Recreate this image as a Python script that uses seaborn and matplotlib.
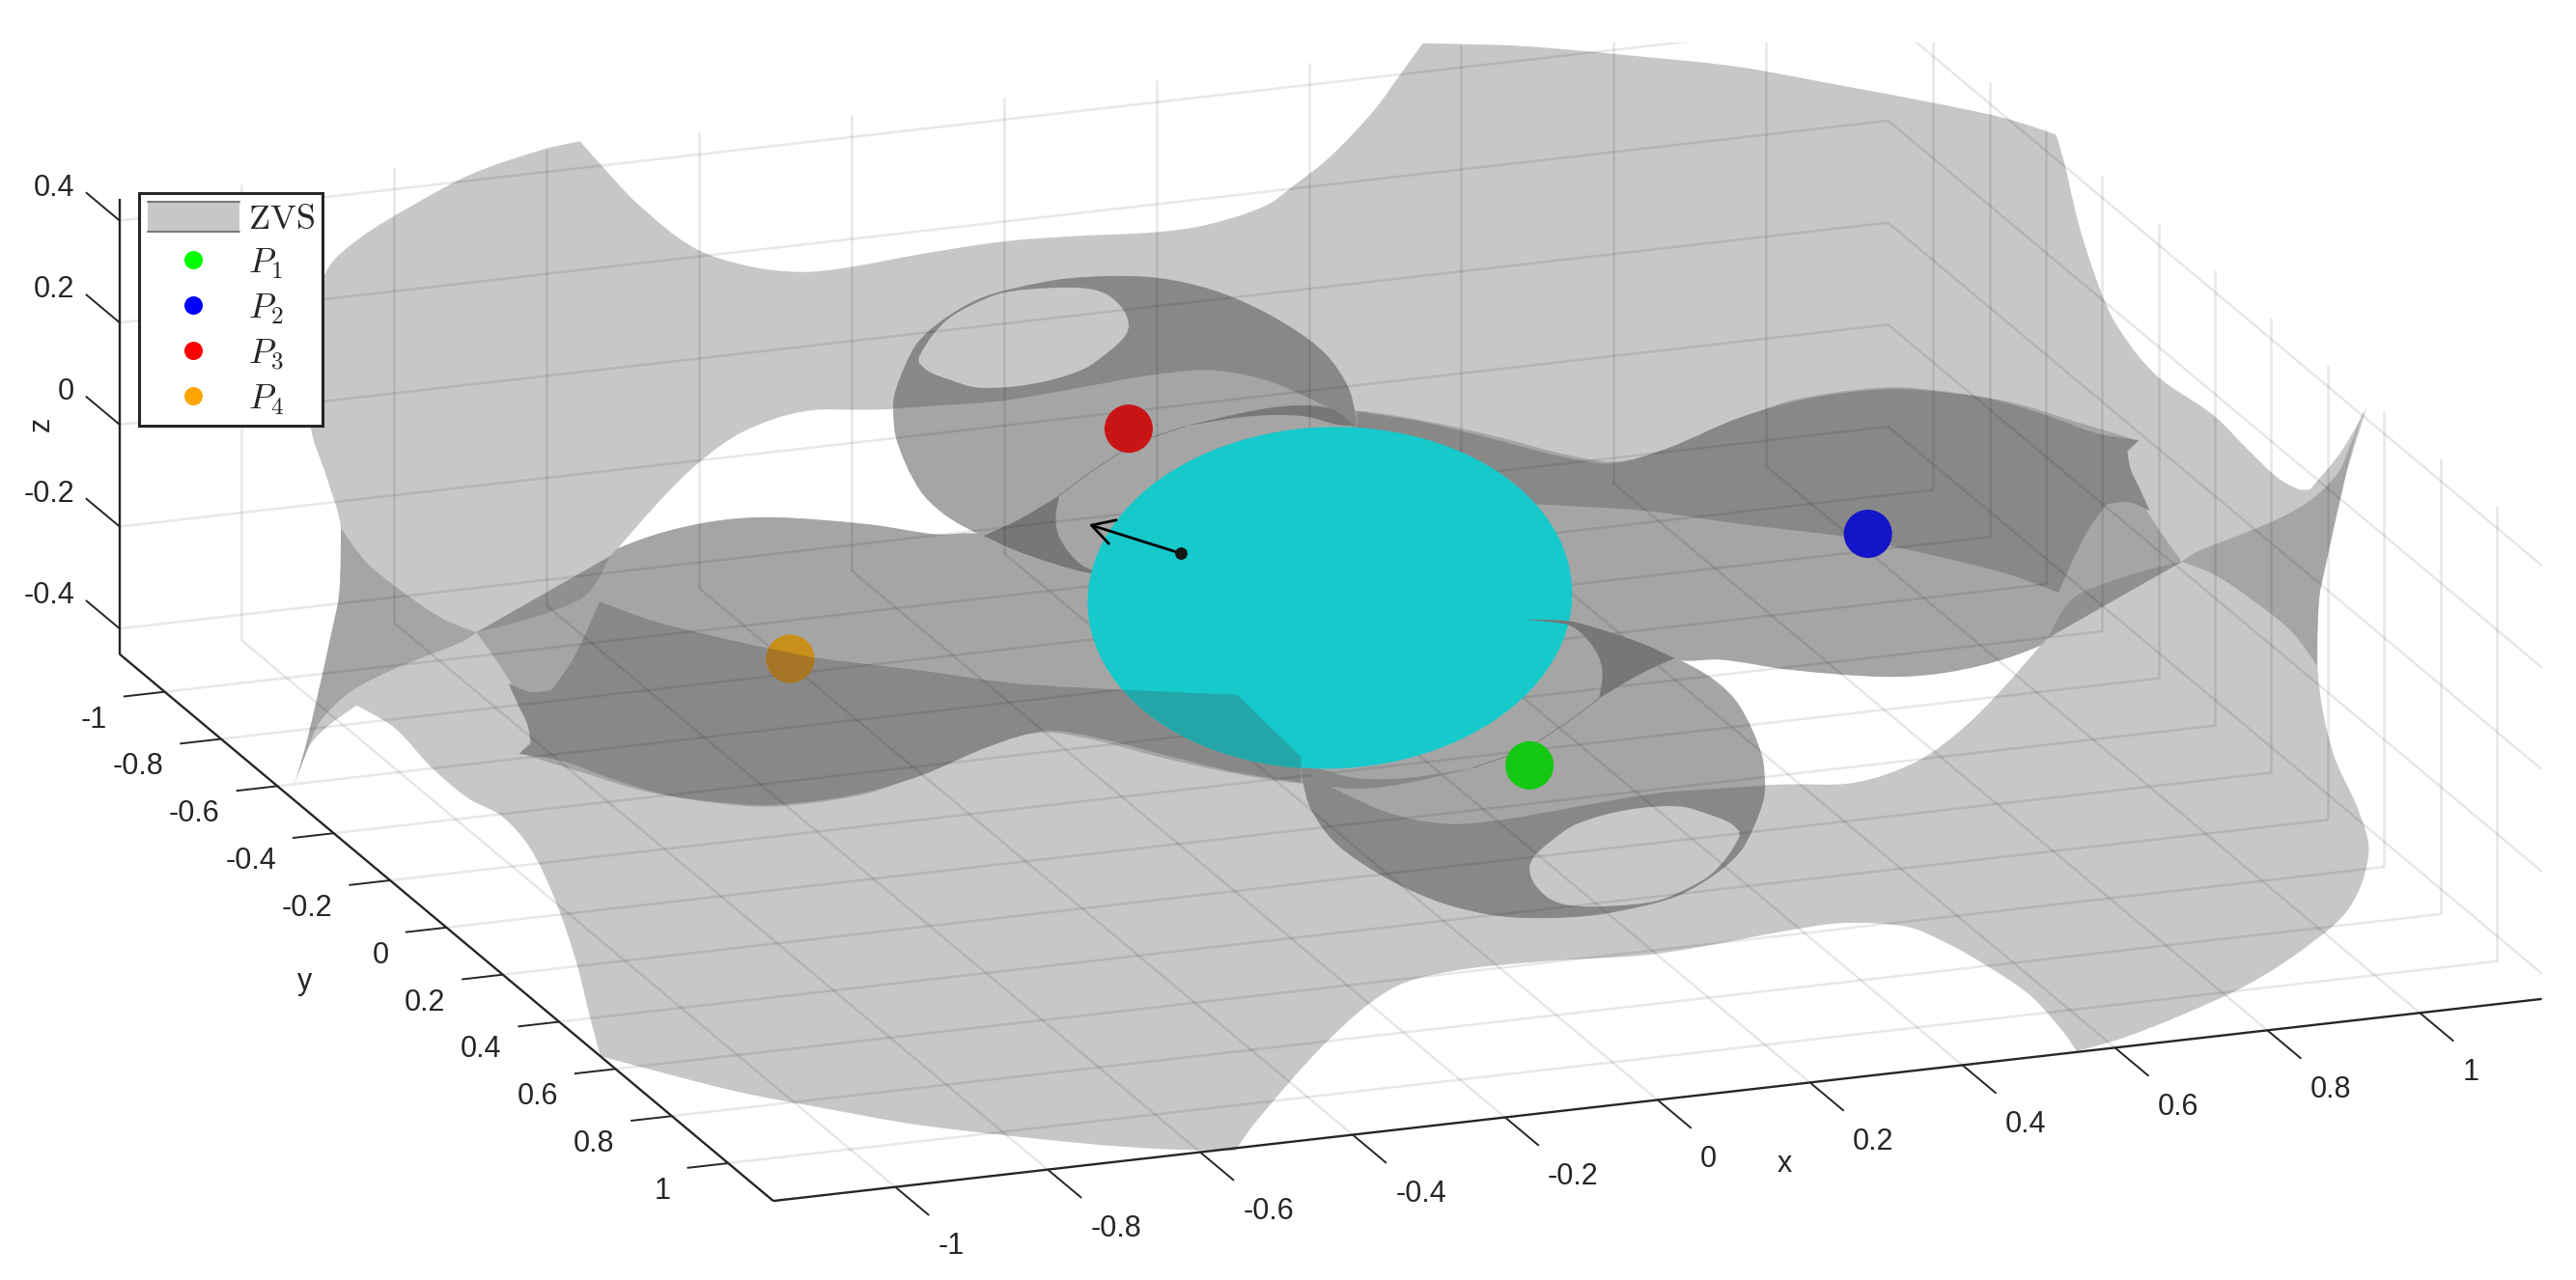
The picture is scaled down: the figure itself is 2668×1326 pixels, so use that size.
import numpy as np
import pandas as pd
import matplotlib
matplotlib.use("Agg")
import matplotlib.pyplot as plt
import seaborn as sns
from matplotlib.collections import LineCollection
from matplotlib.legend_handler import HandlerBase
from matplotlib.lines import Line2D
from matplotlib.patches import Ellipse, PathPatch, Rectangle
from matplotlib.path import Path
from matplotlib.transforms import Affine2D

# ---- data (view-plane units of the 1568-wide image) ----
X_TICKS = [-1, -0.8, -0.6, -0.4, -0.2, 0, 0.2, 0.4, 0.6, 0.8, 1]
Y_TICKS = [-1, -0.8, -0.6, -0.4, -0.2, 0, 0.2, 0.4, 0.6, 0.8, 1]
Z_TICKS = [-0.4, -0.2, 0, 0.2, 0.4]
TICK_NAMES = {-1: "-1", -0.8: "-0.8", -0.6: "-0.6", -0.4: "-0.4", -0.2: "-0.2", 0: "0",
              0.2: "0.2", 0.4: "0.4", 0.6: "0.6", 0.8: "0.8", 1: "1"}
XY_LIM = 1.16
Z_MIN, Z_MAX = -0.45, 0.443

SILHOUETTE = [(353,86),(366,100.6),(388,124),(422,150.6),(455.5,162),(488,165.6),(515,163),(560,154.8),
 (611,147),(650,144),(702.7,141.4),(734,137),(770,125.4),(788,112.6),(809,96),(836,67.6),(854,43),(866,26.4),
 (912.7,27.4),(940,29),(1000,34.5),(1058,40.7),(1123,52.5),
 (1172,61.7),(1220.6,72),(1251.5,82),(1256,97),(1266,139),(1279,178),(1289,199),(1312,228),(1347.5,253),
 (1370,275.5),(1386.6,291),(1399.6,298),(1406,298),(1425,275),(1440.6,248),(1429,285),(1419,315),
 (1412.6,354),(1411,411),(1420,458),(1435.6,493.5),(1441.8,519.3),(1430.5,552),(1405,575.6),(1369,599),
 (1328,618),(1292,632),(1264,640),(1256,628.4),(1235.7,606),(1205.6,585.7),(1184.6,574),(1160.6,564.2),
 (1121.6,562),(1091.6,566),(1007.6,580.8),(943.4,585),(881.6,591.6),(846,602.6),(807.6,634.3),(764,683.5),
 (752,700.6),(706,699.5),(658,696),(560,685),(495,673.5),(446,664),(365.5,643),(360,622.7),(350.5,584.7),(337.4,546.7),
 (322.4,516),(305.5,497),(285,486),(262.4,467),(240,443),(217,429.6),(198.7,442.8),(187.5,455.5),(179,478),
 (185.6,456),(193,425),(202.5,382),(206.5,361),(207.5,321.4),(199,291),(189,258.6),(190,200),(199,164.5),
 (219,145),(253,124),(287,106),(330.6,91)]
WHITE_GAP = [(376,334),(401.5,305),(425,282),(452,263),(489,250.5),(529,249.5),(544,249),(547.5,270),
 (559,294),(576,311),(598,325.5),(569.5,325.3),(529,319.3),(472,315),(438.6,316.8),(405,323.7)]
LOBE_DISK = [(543.6,248.8),(544.8,239),(551.5,221.3),(559.4,207.6),(575,194),(595.4,182.2),(615.6,175.9),
 (651.6,169.4),(696.6,168.5),(730.3,174.3),(759.5,185),(786.5,199.8),(806.8,215.5),(820.3,235),(824.8,250.7),
 (826,260.5),(800,320),(700,350),(664,347),(640.3,342.8),(617.8,335),(597.6,326.2),(575,313.4),(559.4,297.7),
 (545.9,268.4)]
LOBE_DARK = [(543.6,248.8),(544.8,239),(551.5,221.3),(559.4,207.6),(575,194),(595.4,182.2),(615.6,175.9),
 (651.6,169.4),(696.6,168.5),(730.3,174.3),(759.5,185),(786.5,199.8),(806.8,215.5),(820.3,235),(824.8,250.7),
 (826,260.5),(809,248.8),(797.8,242.9),(775.3,233),(752.8,227.2),(730.3,225.3),(696.6,229),(662.8,235),
 (611,243.9),(572.9,246.8)]
LOBE_HOLE = [(559.4,217.4),(567,205),(577.4,194),(593,185),(611,178.2),(640,175.3),(662.8,175.8),(675,180),(684,189),
 (687,198),(684.5,205),(675,214),(658.3,225.3),(626.8,234),(595.4,236),(577.4,231),(565,226),(559.4,221)]
BAND_MID = [(290,385),(371,338.8),(376,334),(405,323.7),(438.6,316.8),(472,315),(529,319.3),(569.5,325.3),
 (598,325.3),(617.8,335),(640.3,342.8),(664,347),(700,360),(866,475),(832.6,478),(792,477),(745,469.7),
 (704.4,460.5),(664,450),(633.6,446),(600,454),(562.7,469.7),(529,482.8),(480,490.5),(450,490.5),(393.6,482),
 (356,470.7),(322.4,460.5),(316.8,458),(324.3,450.4),(318.7,430),(307.4,410)]
SPUR_MID = [(179,478),(185.6,456),(193,425),(202.5,382),(206.5,361),(207.5,321.4),(222.7,342),(246,361),(270,377),
 (290,385),(281,390.9),(240,407.3),(213.7,421),(195,439),(187.5,455.5)]
SPUR_WEDGE = [(290,385),(371,338.8),(354,364.4)]
BAND_DARK = [(1302,268),(1294.8,274),(1297,286),(1302,296.5),(1308.5,311),(1295.5,305.7),(1282.4,307),(1269.4,325.4),
 (1253,360.8),(1220.6,349),(1172,337),(1139,330),(1123,326.7),(1058,318.8),(1001,311),(933.9,307),(865,304),(826,266),
 (826,250.5),(866.4,257),(900,265),(950.8,278),(981,282),(1014.9,272.9),(1058,254.6),(1100,242.7),(1146,237),
 (1168.5,237.5),(1211,242.7),(1246.6,253.2),(1276,263.7)]
LENS_WEDGE = [(598.7,326.2),(620,316.4),(644.8,301.7),(642.6,315.4),(644.8,327),(653.8,339.9),(664,346.7),(691,349.5),
 (664,349),(640.3,342.8),(617.8,335)]
LENS_CAP = [(721.3,259.5),(775.3,248),(809,248.5),(824.8,259.5),(813.6,258.5),(795.5,253.7),(775.3,252.7),(752.8,254.3)]
LENS_STROKE = [(721.3,259.5),(689.8,270.3),(662.8,288),(644.8,301.7)]

SPHERE_CENTER = (809.5, 364)
SPHERE_AXES = (295, 208)
SYMMETRY_CENTER = (809, 363.5)
ARROW_TAIL = (719, 337)
ARROW_TIP = (662.8, 319.3)

POINT_NAMES = ["P1", "P2", "P3", "P4"]
POINT_X = [931, 1137, 687, 481]
POINT_Y = [466, 325, 261, 401]
POINT_SHOWN = ["#14c814", "#1414c8", "#c81414", "#c8901a"]
LEGEND_COLORS = ["#00ff00", "#0000ff", "#ff0000", "#ffa500"]
LEGEND_LABELS = [r"$\mathrm{ZVS}$", r"$P_1$", r"$P_2$", r"$P_3$", r"$P_4$"]

LIGHT, MID, DARK, DARKEST = "#c7c7c7", "#a5a5a5", "#888888", "#777777"
INK = "#262626"

# ---- set-up ----
sns.set_theme(style="white")
plt.rcParams["font.family"] = ["Liberation Sans", "DejaVu Sans"]
plt.rcParams["mathtext.fontset"] = "cm"

W, H = 2668, 1326
fig = plt.figure(figsize=(W / 100, H / 100), dpi=100, facecolor="white")
ax = fig.add_axes([0, 0, 1, 1])
ax.set_xlim(0, 1568)
ax.set_ylim(1326 / 1.7015, 0)
ax.set_axis_off()

half_turn = Affine2D().rotate_deg_around(*SYMMETRY_CENTER, 180) + ax.transData


def outline(points, corner_deg=40):
    """Closed Bezier outline through the read points; sharp turns stay corners."""
    p = np.asarray(points, float)
    n = len(p)
    tang = np.zeros_like(p)
    for i in range(n):
        a, b = p[i] - p[i - 1], p[(i + 1) % n] - p[i]
        cosang = a @ b / (np.linalg.norm(a) * np.linalg.norm(b))
        if cosang > np.cos(np.radians(corner_deg)):
            d = p[(i + 1) % n] - p[i - 1]
            tang[i] = d / np.linalg.norm(d)
    verts, codes = [p[0]], [Path.MOVETO]
    for i in range(n):
        j = (i + 1) % n
        seg = np.linalg.norm(p[j] - p[i]) / 3
        verts += [p[i] + tang[i] * seg, p[j] - tang[j] * seg, p[j]]
        codes += [Path.CURVE4] * 3
    verts.append(p[0])
    codes.append(Path.CLOSEPOLY)
    return Path(verts, codes)


def fill(points, color, z, mirrored=False):
    p = PathPatch(outline(points), facecolor=color, edgecolor="none", zorder=z)
    if mirrored:
        p.set_transform(half_turn)
    ax.add_patch(p)
    return p


def both(points, color, z):
    fill(points, color, z)
    fill(points, color, z, mirrored=True)


# orthographic view of the box
ORIGIN = np.array([810.0, 363.5])
EX, EY, EZ = np.array([464.0, -53.0]), np.array([171.5, 143.5]), np.array([0.0, -310.5])


def view(x, y, z):
    return tuple(ORIGIN + x * EX + y * EY + z * EZ)


# ---- surface sheets ----
fill(SILHOUETTE, LIGHT, 2)
both(WHITE_GAP, "white", 3)
both(LOBE_DISK, MID, 4)
both(BAND_MID, MID, 5)
both(SPUR_MID, MID, 5)
both(SPUR_WEDGE, "#909090", 6)
both(BAND_DARK, DARK, 6)
both(LOBE_DARK, DARK, 7)
both(LOBE_HOLE, LIGHT, 8)
fill(LENS_WEDGE, DARKEST, 8)
fill(LENS_CAP, DARKEST, 8)
for tf in (ax.transData, half_turn):
    ax.plot(*zip(*LENS_STROKE), color=DARKEST, lw=0.6, zorder=8, transform=tf)

# ---- grid ----
segs = []
for k in X_TICKS:
    segs.append([view(k, -XY_LIM, Z_MIN), view(k, XY_LIM, Z_MIN)])
    segs.append([view(k, -XY_LIM, Z_MIN), view(k, -XY_LIM, Z_MAX)])
for k in Y_TICKS:
    segs.append([view(-XY_LIM, k, Z_MIN), view(XY_LIM, k, Z_MIN)])
    segs.append([view(XY_LIM, k, Z_MIN), view(XY_LIM, k, Z_MAX)])
for k in Z_TICKS:
    segs.append([view(-XY_LIM, -XY_LIM, k), view(XY_LIM, -XY_LIM, k)])
    segs.append([view(XY_LIM, -XY_LIM, k), view(XY_LIM, XY_LIM, k)])
grid = LineCollection(segs, colors="black", alpha=0.095, linewidths=1.8, zorder=9)
ax.add_collection(grid)
grid.set_clip_path(Rectangle((0, 26), 1568, 760, transform=ax.transData))

# ---- sphere, arrow ----
sphere_kw = dict(angle=-2, edgecolor="none")
ax.add_patch(Ellipse(SPHERE_CENTER, *SPHERE_AXES, facecolor="#16c9cb", zorder=10, **sphere_kw))
clip_band = PathPatch(outline(BAND_DARK), transform=half_turn)
teal = Ellipse(SPHERE_CENTER, *SPHERE_AXES, facecolor="#23a6a8", zorder=11, **sphere_kw)
ax.add_patch(teal)
teal.set_clip_path(clip_band)
fill(LENS_WEDGE, DARKEST, 12, mirrored=True)
fill(LENS_CAP, DARK, 12, mirrored=True)

ax.annotate("", xy=ARROW_TIP, xytext=ARROW_TAIL, zorder=14,
            arrowprops=dict(arrowstyle="->,head_length=0.75,head_width=0.42", color="black", lw=2.0,
                            shrinkA=0, shrinkB=0, mutation_scale=22))
ax.scatter(*ARROW_TAIL, s=85, color="#151515", linewidths=0, zorder=15)

# ---- points ----
points = pd.DataFrame({"name": POINT_NAMES, "x": POINT_X, "y": POINT_Y})
sns.scatterplot(data=points, x="x", y="y", hue="name", palette=POINT_SHOWN, s=1296, linewidth=0,
                legend=False, ax=ax, zorder=13)
ax.set_xlim(0, 1568)
ax.set_ylim(1326 / 1.7015, 0)
ax.set_axis_off()
shade = ax.scatter(POINT_X[3], POINT_Y[3], s=1296, color="#a67626", linewidths=0, zorder=13.5)
shade.set_clip_path(clip_band)

# ---- axes rulers, ticks and labels ----
rulers = [[view(-XY_LIM, -XY_LIM, Z_MIN), view(-XY_LIM, -XY_LIM, Z_MAX)],
          [view(-XY_LIM, -XY_LIM, Z_MIN), view(-XY_LIM, XY_LIM, Z_MIN)],
          [view(-XY_LIM, XY_LIM, Z_MIN), view(XY_LIM, XY_LIM, Z_MIN)]]
ax.add_collection(LineCollection(rulers, colors=INK, linewidths=1.7, zorder=16))

TICK_SIZE = 22
ticks = []
for k in X_TICKS:
    base = view(k, XY_LIM, Z_MIN)
    ticks.append([base, view(k, XY_LIM + 0.12, Z_MIN)])
    ax.text(base[0] + 26, base[1] + 36, TICK_NAMES[k], ha="left", va="center", fontsize=TICK_SIZE, color=INK)
for k in Y_TICKS:
    base = view(-XY_LIM, k, Z_MIN)
    ticks.append([base, view(-XY_LIM - 0.054, k, Z_MIN)])
    ax.text(base[0] - 35, base[1] + 17, TICK_NAMES[k], ha="right", va="center", fontsize=TICK_SIZE, color=INK)
for k in Z_TICKS:
    base = view(-XY_LIM, -XY_LIM, k)
    ticks.append([base, view(-XY_LIM, -XY_LIM - 0.12, k)])
    ax.text(base[0] - 27.5, base[1] - 20, TICK_NAMES[k], ha="right", va="center", fontsize=TICK_SIZE, color=INK)
ax.add_collection(LineCollection(ticks, colors=INK, linewidths=1.4, zorder=16))
ax.text(1086, 709, "x", ha="center", va="center", fontsize=TICK_SIZE, color=INK)
ax.text(185.6, 598, "y", ha="center", va="center", fontsize=TICK_SIZE, color=INK)
ax.text(25.3, 258, "z", ha="center", va="center", fontsize=TICK_SIZE, color=INK, rotation=90)


# ---- legend ----
class SurfaceHandler(HandlerBase):
    def create_artists(self, legend, orig, xd, yd, width, height, fontsize, trans):
        body = Rectangle((-xd, -yd), width, height, facecolor=LIGHT, edgecolor="none", transform=trans)
        top = Line2D([-xd, -xd + width], [-yd + height] * 2, color="#7a7a7a", lw=1.5, transform=trans)
        low = Line2D([-xd, -xd + width], [-yd] * 2, color="#7a7a7a", lw=1.5, transform=trans)
        return [body, top, low]


surface_handle = Rectangle((0, 0), 1, 1)
handles = [surface_handle] + [
    Line2D([], [], linestyle="none", marker="o", markersize=13.7, markerfacecolor=c, markeredgecolor="none")
    for c in LEGEND_COLORS]
leg = ax.legend(handles, LEGEND_LABELS, loc="upper left", bbox_to_anchor=(144 / W, 1 - 200 / H),
                bbox_transform=fig.transFigure, borderaxespad=0, fontsize=26, frameon=True, fancybox=False,
                framealpha=1, edgecolor=INK, facecolor="white", handlelength=2.63, handleheight=0.94,
                handletextpad=0.25, borderpad=0.24, labelspacing=0.3,
                handler_map={surface_handle: SurfaceHandler()})
leg.get_frame().set_linewidth(2.2)
leg.set_zorder(30)

fig.savefig("out.png", dpi=100, facecolor="white")
